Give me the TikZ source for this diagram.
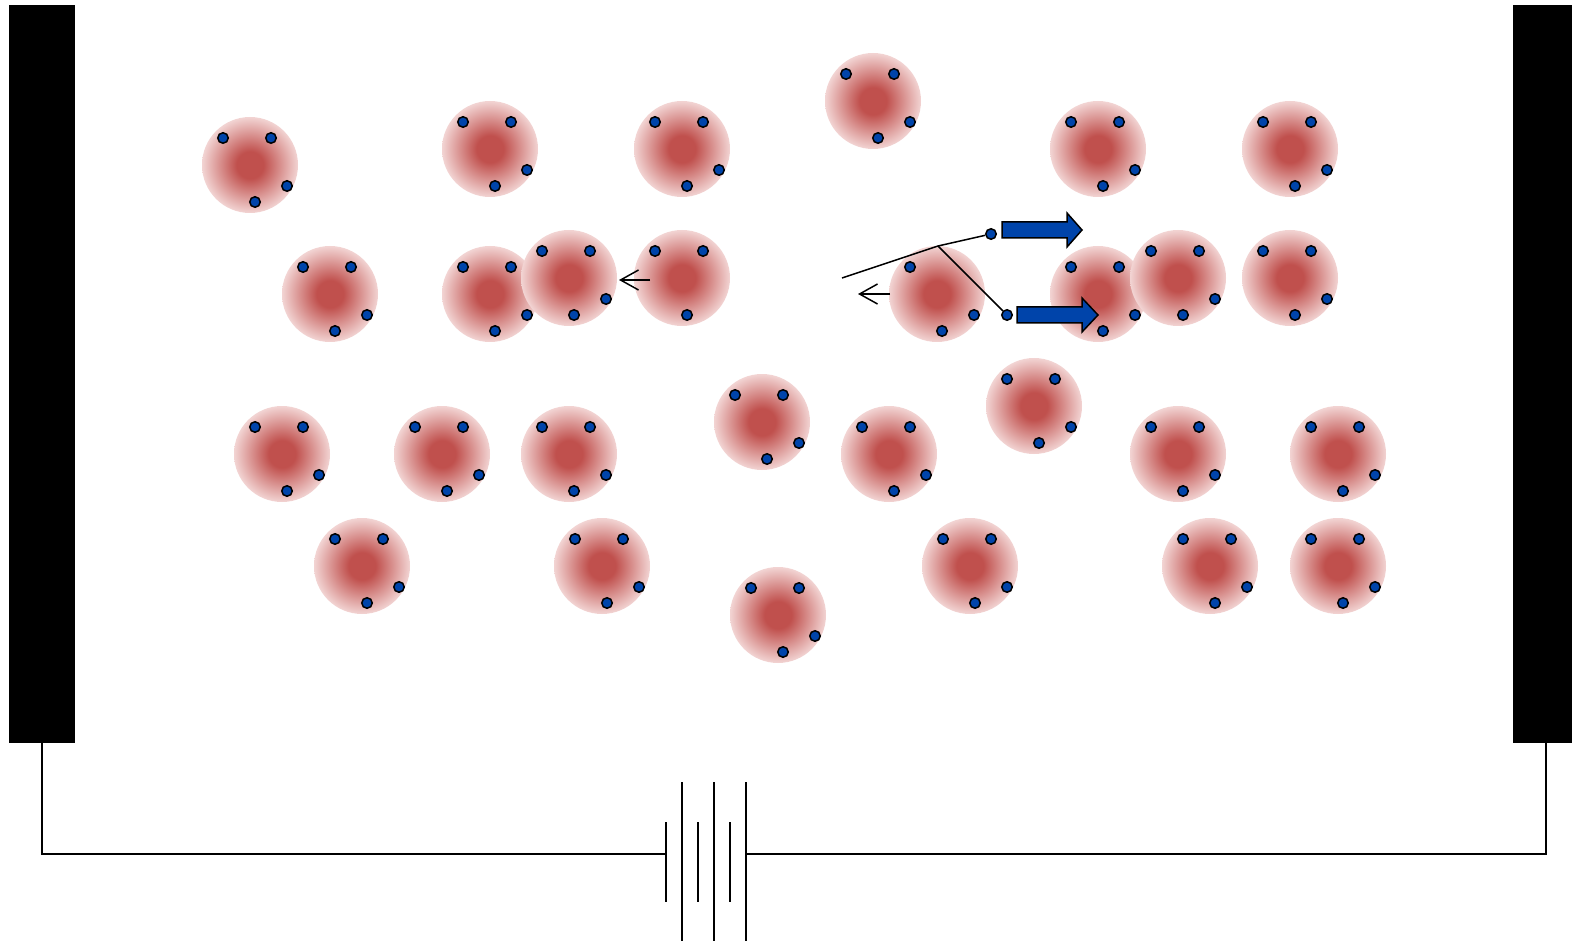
\documentclass[tikz,border=0pt]{standalone}
\usetikzlibrary{arrows.meta}
\definecolor{atomcore}{RGB}{192,80,77}
\definecolor{atomrim}{RGB}{242,212,211}
\definecolor{eblue}{RGB}{0,68,170}
\pgfdeclareradialshading{atomglow}{\pgfpoint{0bp}{0bp}}{color(0bp)=(atomcore); color(7bp)=(atomcore); color(25bp)=(atomrim); color(50bp)=(atomrim)}
\begin{document}
\begin{tikzpicture}[x=1pt, y=-1pt,
    plate/.style={fill=black, inner sep=0pt, minimum width=66pt, minimum height=738pt},
    atom/.style={circle, inner sep=0pt, minimum size=96pt, shade, shading=atomglow},
    electron/.style={circle, draw=black, line width=1.5pt, fill=eblue, inner sep=0pt, minimum size=10.5pt},
    wire/.style={line width=2pt},
    track/.style={line width=1.5pt},
    push/.style={draw=black, line width=1.5pt, fill=eblue, line join=miter}]
  \useasboundingbox (0,0) rectangle (1572,941);

  % electrodes and battery
  \node[plate] (lplate) at (42,374) {};
  \node[plate] (rplate) at (1546,374) {};
  \coordinate (bl) at (666,854);
  \coordinate (br) at (746,854);
  \draw[wire] (lplate.south) |- (bl);
  \draw[wire] (rplate.south) |- (br);
  \draw[wire] (666,822) -- (666,902);
  \draw[wire] (698,822) -- (698,902);
  \draw[wire] (730,822) -- (730,902);
  \draw[wire] (682,782) -- (682,945);
  \draw[wire] (714,782) -- (714,945);
  \draw[wire] (746,782) -- (746,945);

  % atoms
  \path
    (250,165) node[atom] (a1){}
    (490,149) node[atom] (a2){}
    (682,149) node[atom] (a3){}
    (873,101) node[atom] (a4){}
    (1098,149) node[atom] (a5){}
    (1290,149) node[atom] (a6){}
    (330,294) node[atom] (a7){}
    (490,294) node[atom] (a8){}
    (569,278) node[atom] (a9){}
    (682,278) node[atom] (a10){}
    (937,294) node[atom] (a11){}
    (1098,294) node[atom] (a12){}
    (1178,278) node[atom] (a13){}
    (1290,278) node[atom] (a14){}
    (282,454) node[atom] (a15){}
    (442,454) node[atom] (a16){}
    (569,454) node[atom] (a17){}
    (762,422) node[atom] (a18){}
    (889,454) node[atom] (a19){}
    (1034,406) node[atom] (a20){}
    (1178,454) node[atom] (a21){}
    (1338,454) node[atom] (a22){}
    (362,566) node[atom] (a23){}
    (602,566) node[atom] (a24){}
    (778,615) node[atom] (a25){}
    (970,566) node[atom] (a26){}
    (1210,566) node[atom] (a27){}
    (1338,566) node[atom] (a28){};

  % bound electrons
  \foreach \n in {a1,a2,a3,a4,a5,a6,a7,a8,a9,a12,a13,a14,a15,a16,a17,a18,a19,a20,a21,a22,a23,a24,a25,a26,a27,a28}
    \foreach \dx/\dy in {-27/-27, 21/-27, 37/21, 5/37}
      \node[electron] at ([shift={(\dx,\dy)}]\n) {};
  \node[electron] at ([shift={(-27,-27)}]a10) {};
  \node[electron] at ([shift={(21,-27)}]a10) {};
  \node[electron] at ([shift={(5,37)}]a10) {};
  \node[electron] at ([shift={(-27,-27)}]a11) {};
  \node[electron] at ([shift={(37,21)}]a11) {};
  \node[electron] at ([shift={(5,37)}]a11) {};

  % collision
  \node[electron] (e1) at (991,234) {};
  \node[electron] (e2) at (1007,315) {};
  \coordinate (src) at (842,278);
  \coordinate (hit) at (938,246);
  \draw[track] (src) -- (hit) -- (e1);
  \draw[track] (hit) -- (e2);

  % ion drift
  \coordinate (d1) at (650,280);
  \coordinate (d1tip) at (619,280);
  \coordinate (d2) at (890,294);
  \coordinate (d2tip) at (858,294);
  \draw[track, -{Straight Barb[length=18pt,width=20pt]}] (d1) -- (d1tip);
  \draw[track, -{Straight Barb[length=18pt,width=20pt]}] (d2) -- (d2tip);

  % electron motion
  \draw[push] (1002,222) -- (1067,222) -- (1067,213) -- (1082,230) -- (1067,247) -- (1067,238) -- (1002,238) -- cycle;
  \draw[push] (1017,307) -- (1082,307) -- (1082,298) -- (1098,315) -- (1082,332) -- (1082,323) -- (1017,323) -- cycle;
\end{tikzpicture}
\end{document}
